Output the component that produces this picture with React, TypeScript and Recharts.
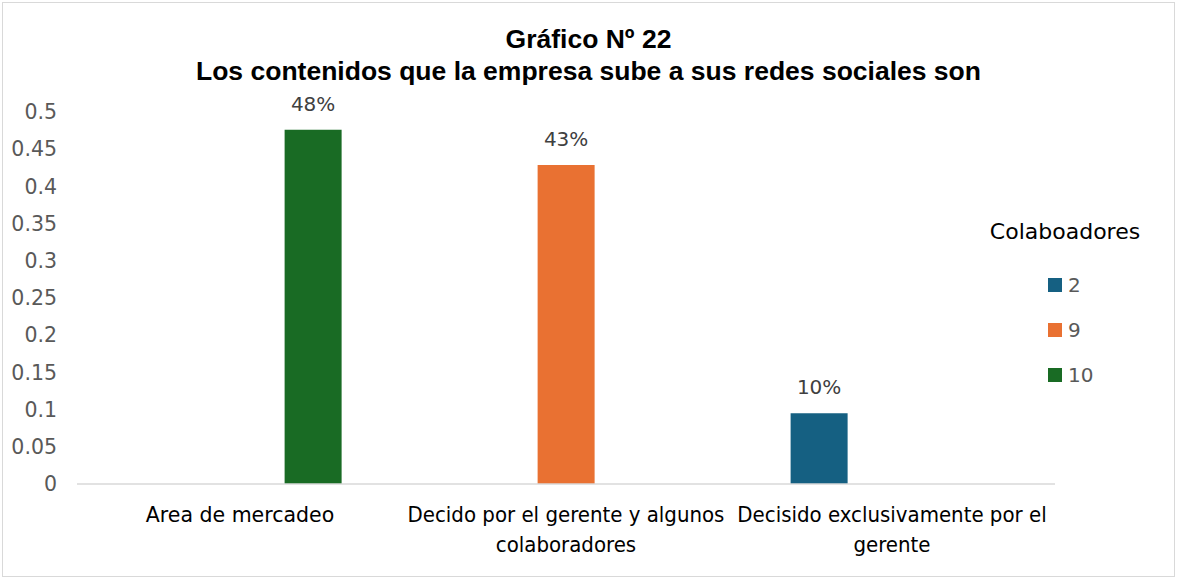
import { BarChart, Bar, XAxis, YAxis, Legend, LabelList } from "recharts";

const categories = [
  "Area de mercadeo",
  "Decido por el gerente y algunos colaboradores",
  "Decisido exclusivamente por el gerente",
];
const serie2 = [0, 0, 0.0952];
const serie9 = [0, 0.4286, 0];
const serie10 = [0.4762, 0, 0];
const yTicks = [0, 0.05, 0.1, 0.15, 0.2, 0.25, 0.3, 0.35, 0.4, 0.45, 0.5];
const yTickLabels = ["0", "0.05", "0.1", "0.15", "0.2", "0.25", "0.3", "0.35", "0.4", "0.45", "0.5"];

const chartData = categories.map((name, i) => ({
  name,
  s2: serie2[i],
  s9: serie9[i],
  s10: serie10[i],
}));

const FONT = "'DejaVu Sans', sans-serif";
const NARROW = "'DejaVu Sans Condensed', 'DejaVu Sans', sans-serif";

let ctx: CanvasRenderingContext2D | null = null;
function measure(text: string, font: string) {
  if (!ctx) ctx = document.createElement("canvas").getContext("2d");
  if (!ctx) return text.length * 11;
  ctx.font = font;
  return ctx.measureText(text).width;
}

// wrap a category label the way the spreadsheet does (narrow font when it wraps)
function wrapLabel(text: string, maxWidth: number) {
  if (measure(text, "20.5px " + FONT) <= maxWidth) return { lines: [text], family: FONT, size: 20.5 };
  const size = 22;
  const font = size + "px " + NARROW;
  const words = text.split(" ");
  const lines: string[] = [];
  let cur = "";
  for (const w of words) {
    const test = cur ? cur + " " + w : w;
    if (measure(test, font) > maxWidth + 10 && cur) {
      lines.push(cur);
      cur = w;
    } else {
      cur = test;
    }
  }
  if (cur) lines.push(cur);
  return { lines, family: NARROW, size };
}

function CategoryTick(props: any) {
  const { x, y, payload } = props;
  const { lines, family, size } = wrapLabel(String(payload.value), 326);
  return (
    <text x={x} y={y + 38} textAnchor="middle" fontSize={size} fontFamily={family} fill="#000">
      {lines.map((l, i) => (
        <tspan key={i} x={x} dy={i === 0 ? 0 : 30}>
          {l}
        </tspan>
      ))}
    </text>
  );
}

function PctLabel(props: any) {
  const { x, y, width, value } = props;
  if (!value) return null;
  return (
    <text
      x={x + width / 2}
      y={y - 19}
      textAnchor="middle"
      fontSize={20}
      fontFamily={FONT}
      fill="#404040"
    >
      {Math.round(value * 100)}%
    </text>
  );
}

function LegendBox(props: any) {
  const items = [...(props.payload || [])].sort(
    (a: any, b: any) => Number(a.value) - Number(b.value)
  );
  return (
    <div style={{ fontFamily: FONT }}>
      <div style={{ fontSize: 22, color: "#000", textAlign: "center", marginTop: 7, marginBottom: 18 }}>
        Colaboadores
      </div>
      {items.map((it: any) => (
        <div
          key={it.value}
          style={{ display: "flex", alignItems: "center", height: 45, paddingLeft: 88 }}
        >
          <span style={{ width: 14, height: 14, background: it.color, marginRight: 6 }} />
          <span style={{ fontSize: 20, color: "#595959" }}>{it.value}</span>
        </div>
      ))}
    </div>
  );
}

export default function App() {
  return (
    <div style={{ position: "absolute", left: 0, top: 0, width: 1177, height: 580, background: "#fff" }}>
      <div
        style={{
          position: "absolute",
          left: 2,
          top: 2,
          width: 1171,
          height: 573,
          border: "1px solid #d9d9d9",
        }}
      />
      <div
        style={{
          position: "absolute",
          left: 0,
          top: 23,
          width: 1177,
          textAlign: "center",
          fontFamily: "'Liberation Sans', Arial, sans-serif",
          fontWeight: "bold",
          fontSize: 26.5,
          lineHeight: "32px",
          color: "#000",
        }}
      >
        <div>Gráfico Nº 22</div>
        <div>Los contenidos que la empresa sube a sus redes sociales son</div>
      </div>
      <div style={{ position: "absolute", left: 0, top: 0 }}>
        <BarChart
          width={1177}
          height={580}
          data={chartData}
          margin={{ top: 112, right: 122, bottom: 0, left: 0 }}
          barCategoryGap="18.9%"
          barGap={16}
        >
          <XAxis
            dataKey="name"
            axisLine={{ stroke: "#d9d9d9", strokeWidth: 1.5 }}
            tickLine={false}
            tickSize={0}
            tickMargin={0}
            height={96}
            interval={0}
            tick={<CategoryTick />}
          />
          <YAxis
            domain={[0, 0.5]}
            ticks={yTicks}
            tickFormatter={(v: number) => yTickLabels[yTicks.indexOf(v)] ?? String(v)}
            axisLine={false}
            tickLine={false}
            tickSize={0}
            tickMargin={20}
            width={77}
            tick={{ fill: "#595959", fontSize: 20.5, fontFamily: FONT }}
          />
          <Legend
            layout="vertical"
            align="center"
            verticalAlign="middle"
            content={<LegendBox />}
            wrapperStyle={{ left: 960, top: 212, width: 210, right: "auto", bottom: "auto" }}
          />
          <Bar dataKey="s2" name="2" fill="#156082" isAnimationActive={false}>
            <LabelList dataKey="s2" content={<PctLabel />} />
          </Bar>
          <Bar dataKey="s9" name="9" fill="#E97132" isAnimationActive={false}>
            <LabelList dataKey="s9" content={<PctLabel />} />
          </Bar>
          <Bar dataKey="s10" name="10" fill="#196B24" isAnimationActive={false}>
            <LabelList dataKey="s10" content={<PctLabel />} />
          </Bar>
        </BarChart>
      </div>
    </div>
  );
}
